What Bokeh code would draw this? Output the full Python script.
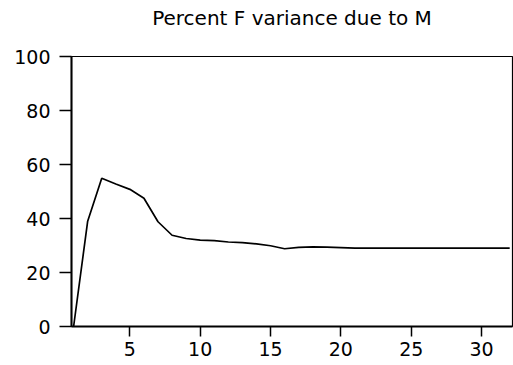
from bokeh.plotting import figure
from bokeh.models import Range1d, FixedTicker
from bokeh.embed import file_html
from bokeh.resources import INLINE

# Data
periods = list(range(1, 33))
percent = [0.0, 39.0, 54.9, 52.8, 50.8, 47.5, 38.8, 33.8, 32.6, 32.0,
           31.8, 31.3, 31.1, 30.6, 29.9, 28.8, 29.3, 29.5, 29.4, 29.2,
           29.0, 29.0, 29.0, 29.0, 29.0, 29.0, 29.0, 29.0, 29.0, 29.0,
           29.0, 29.0]
x_ticks = [5, 10, 15, 20, 25, 30]
y_ticks = [0, 20, 40, 60, 80, 100]
title_text = "Percent F variance due to M"

FONT = "DejaVu Sans"

# trailing line break leaves an empty line under the title, lifting it
p = figure(width=513, height=365, output_backend="svg", toolbar_location=None,
           x_range=Range1d(0.85, 32.2), y_range=Range1d(0, 100),
           min_border_left=71, min_border_right=1, min_border_top=56,
           min_border_bottom=39, title=title_text + "\n")

p.title.text_font = FONT
p.title.text_font_size = "20px"
p.title.text_font_style = "normal"
p.title.text_line_height = 1.0
p.title.align = "center"
p.title.text_color = "black"
p.title.standoff = 5

xaxis = p.below[0]
yaxis = p.left[0]
xaxis.ticker = FixedTicker(ticks=x_ticks)
yaxis.ticker = FixedTicker(ticks=y_ticks)

p.line(periods, percent, line_color="black", line_width=1.7)

p.grid.visible = False
p.outline_line_color = "black"
p.outline_line_width = 1.2
p.background_fill_color = "white"
p.border_fill_color = "white"

for ax in (xaxis, yaxis):
    ax.axis_line_color = "black"
    ax.axis_line_width = 2
    ax.major_tick_line_color = "black"
    ax.major_tick_line_width = 1.5
    ax.minor_tick_line_color = None
    ax.major_tick_in = 0
    ax.major_label_text_font = FONT
    ax.major_label_text_font_size = "19px"
    ax.major_label_text_color = "black"
yaxis.major_tick_out = 12
yaxis.major_label_standoff = 9
xaxis.major_tick_out = 10
xaxis.major_label_standoff = 5

open("out.html", "w").write(file_html(p, INLINE))
